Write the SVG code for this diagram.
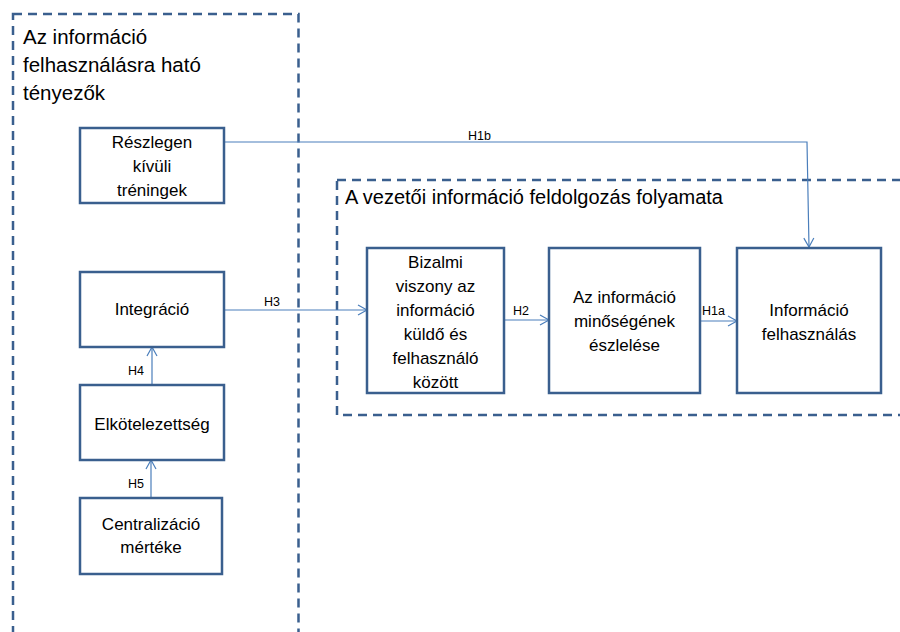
<svg xmlns="http://www.w3.org/2000/svg" width="900" height="632" viewBox="0 0 900 632">
<style>
.frame{fill:none;stroke:#3A5F8E;stroke-width:2.5;stroke-dasharray:9,6}
.node{fill:#fff;stroke:#3A5F8E;stroke-width:2.5}
.t{font-family:"Liberation Sans",Arial,sans-serif;font-size:17px;fill:#000;text-anchor:middle}
.title{font-family:"Liberation Sans",Arial,sans-serif;font-size:20.5px;fill:#000}
.lbl{font-family:"Liberation Sans",Arial,sans-serif;font-size:12.5px;fill:#000}
.conn{fill:none;stroke:#4A7EBB;stroke-width:1.2}
</style>
<defs>
<marker id="arr" markerUnits="userSpaceOnUse" markerWidth="12" markerHeight="12" refX="10" refY="6" orient="auto">
<path d="M1,1 L10,6 L1,11" fill="none" stroke="#4A7EBB" stroke-width="1.2"/>
</marker>
</defs>
<rect width="900" height="632" fill="#fff"/>
<g id="frame-left">
<rect class="frame" x="13" y="14" width="285.5" height="640"/>
<text class="title" x="23" y="44">Az információ</text>
<text class="title" x="23" y="72">felhasználásra ható</text>
<text class="title" x="23" y="100">tényezők</text>
</g>
<g id="frame-right">
<rect class="frame" x="337" y="180" width="580" height="235"/>
<text class="title" x="345" y="204" style="font-size:20px">A vezetői információ feldolgozás folyamata</text>
</g>
<g id="connectors">
<path class="conn" d="M224,142 L807,142 L809,247" marker-end="url(#arr)"/>
<path class="conn" d="M224,310 L367,310" marker-end="url(#arr)"/>
<path class="conn" d="M504,320 L549,320" marker-end="url(#arr)"/>
<path class="conn" d="M700,321 L737,321" marker-end="url(#arr)"/>
<path class="conn" d="M152,385 L152,347" marker-end="url(#arr)"/>
<path class="conn" d="M151,498 L151,460" marker-end="url(#arr)"/>
<text class="lbl" x="468" y="140">H1b</text>
<text class="lbl" x="264" y="306">H3</text>
<text class="lbl" x="513" y="315">H2</text>
<text class="lbl" x="702" y="315">H1a</text>
<text class="lbl" x="128" y="375">H4</text>
<text class="lbl" x="128" y="488">H5</text>
</g>
<g id="n-reszlegen">
<rect class="node" x="80" y="128" width="144" height="75"/>
<text class="t" x="152" y="148">Részlegen</text>
<text class="t" x="152" y="172">kívüli</text>
<text class="t" x="152" y="196">tréningek</text>
</g>
<g id="n-integracio">
<rect class="node" x="80" y="272" width="144" height="75"/>
<text class="t" x="152" y="315">Integráció</text>
</g>
<g id="n-elkotelezettseg">
<rect class="node" x="80" y="385" width="144" height="75"/>
<text class="t" x="152" y="430">Elkötelezettség</text>
</g>
<g id="n-centralizacio">
<rect class="node" x="80" y="498" width="142" height="76"/>
<text class="t" x="151" y="530">Centralizáció</text>
<text class="t" x="151" y="553">mértéke</text>
</g>
<g id="n-bizalmi">
<rect class="node" x="367" y="248" width="137" height="145"/>
<text class="t" x="435.5" y="268">Bizalmi</text>
<text class="t" x="435.5" y="292">viszony az</text>
<text class="t" x="435.5" y="316">információ</text>
<text class="t" x="435.5" y="340">küldő és</text>
<text class="t" x="435.5" y="364">felhasználó</text>
<text class="t" x="435.5" y="388">között</text>
</g>
<g id="n-minoseg">
<rect class="node" x="549" y="248" width="151" height="145"/>
<text class="t" x="624.5" y="303">Az információ</text>
<text class="t" x="624.5" y="327">minőségének</text>
<text class="t" x="624.5" y="351">észlelése</text>
</g>
<g id="n-felhasznalas">
<rect class="node" x="737" y="248" width="144" height="145"/>
<text class="t" x="809" y="316">Információ</text>
<text class="t" x="809" y="340">felhasználás</text>
</g>
</svg>
